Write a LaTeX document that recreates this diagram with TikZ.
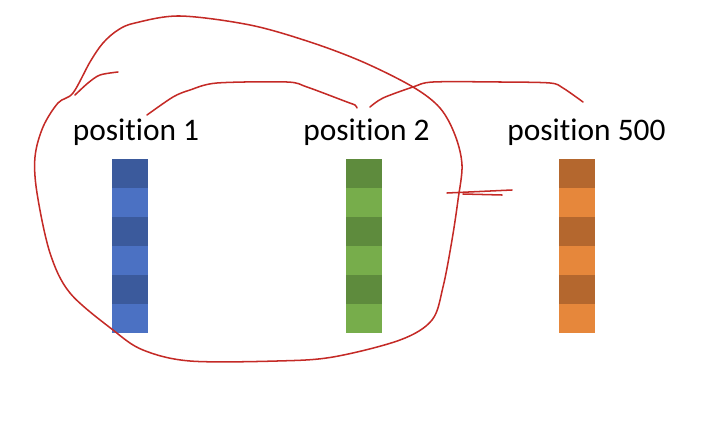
\documentclass[tikz,border=0pt]{standalone}
\usepackage{fontspec}
\setmainfont[Ligatures={NoCommon}]{Carlito}
\usetikzlibrary{positioning}
\definecolor{bdark}{HTML}{3B5A9C}
\definecolor{blight}{HTML}{4B71C3}
\definecolor{gdark}{HTML}{5E8B3D}
\definecolor{glight}{HTML}{77AD4B}
\definecolor{odark}{HTML}{B4672E}
\definecolor{olight}{HTML}{E6873B}
\definecolor{inkred}{HTML}{C42A26}

\begin{document}
\begin{tikzpicture}[x=0.03cm,y=-0.03cm,
	cell/.style={minimum width=1.08cm,minimum height=0.87cm,inner sep=0pt,outer sep=0pt},
	poslabel/.style={anchor=base,font=\fontsize{26.8}{32}\selectfont},
	scribble/.style={draw=inkred,line width=1.3pt,line cap=round,line join=round}]
	\useasboundingbox (0,0) rectangle (701,421);

	% the three columns
	\foreach \name/\cx in {b/130,g/363.5,o/577}
		\foreach \i/\c in {1/dark,2/light,3/dark,4/light,5/dark,6/light}
			\node[cell,fill=\name\c] (\name\i) at (\cx,{159+29*\i-14.5}) {};

	\node[poslabel] (pos1) at (136,140) {position 1};
	\node[poslabel] (pos2) at (366.5,140) {position 2};
	\node[poslabel] (pos500) at (586.5,140) {position 500};

	% hand drawn marks
	\draw[scribble] plot[smooth cycle,tension=0.55] coordinates {
		(73,93) (90,62) (103,43) (118,30) (135,23) (180,16) (250,25) (310,42)
		(363,62) (413,87) (440,108) (455,135) (462,165) (458,200) (452,240)
		(443,287) (432,320) (400,340) (333,357) (277,361) (190,361) (143,350)
		(113,330) (70,293) (50,253) (37,193) (35,157) (43,127) (58,103)};
	\draw[scribble] plot[smooth] coordinates {(75,95) (88,83) (100,75) (118,72)};
	\draw[scribble] plot[smooth] coordinates {(147,115) (173,97) (190,90) (217,83)
		(287,82) (307,87) (347,102) (355,105) (357,108)};
	\draw[scribble] plot[smooth] coordinates {(370,107) (383,98) (413,87) (433,82)
		(500,82) (550,83) (563,88) (583,102)};
	\draw[scribble] (447,193) -- (512,190);
	\draw[scribble] (463,194) -- (502,195);
\end{tikzpicture}
\end{document}
